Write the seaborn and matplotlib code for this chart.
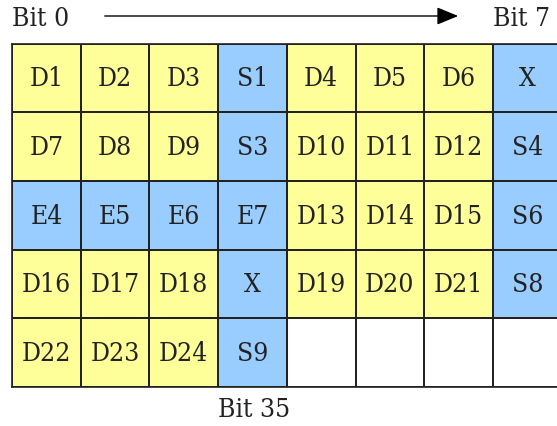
import numpy as np
import matplotlib
matplotlib.use("Agg")
import matplotlib.pyplot as plt
import seaborn as sns
from matplotlib.colors import ListedColormap

# cell labels, row by row (bit 0 .. bit 39)
labels = [
    ["D1", "D2", "D3", "S1", "D4", "D5", "D6", "X"],
    ["D7", "D8", "D9", "S3", "D10", "D11", "D12", "S4"],
    ["E4", "E5", "E6", "E7", "D13", "D14", "D15", "S6"],
    ["D16", "D17", "D18", "X", "D19", "D20", "D21", "S8"],
    ["D22", "D23", "D24", "S9", "", "", "", ""],
]
# 0 = data (yellow), 1 = status (blue), 2 = unused (white)
kinds = [
    [0, 0, 0, 1, 0, 0, 0, 1],
    [0, 0, 0, 1, 0, 0, 0, 1],
    [1, 1, 1, 1, 0, 0, 0, 1],
    [0, 0, 0, 1, 0, 0, 0, 1],
    [0, 0, 0, 1, 2, 2, 2, 2],
]
top_left = "Bit 0"
top_right = "Bit 7"
bottom_label = "Bit 35"

sns.set_theme(style="white")
plt.rcParams['font.family'] = ['DejaVu Serif', 'Liberation Serif']
plt.rcParams['font.stretch'] = 'condensed'

W, H = 557, 427
fig = plt.figure(figsize=(W / 100, H / 100), dpi=100)

cell = 68.7
ax = fig.add_axes([12 / W, (H - 388) / H, 8 * cell / W, 5 * cell / H])
cmap = ListedColormap(["#FFFF99", "#99CCFF", "#FFFFFF"])
sns.heatmap(np.array(kinds), ax=ax, cmap=cmap, vmin=-0.5, vmax=2.5, cbar=False,
            annot=np.array(labels), fmt="", linewidths=1.2, linecolor="#222222",
            annot_kws={"fontsize": 19, "color": "#222222"},
            xticklabels=False, yticklabels=False)
for s in ax.spines.values():
    s.set_visible(True)
    s.set_color("#222222")
    s.set_linewidth(1.2)

# overlay in pixel coordinates for the bit markers
ov = fig.add_axes([0, 0, 1, 1])
ov.set_xlim(0, W)
ov.set_ylim(H, 0)
ov.axis("off")
ov.patch.set_alpha(0)
ov.text(12, 19, top_left, fontsize=19, color="#222222", va="center", ha="left")
ov.text(493, 19, top_right, fontsize=19, color="#222222", va="center", ha="left")
ov.text(218, 410, bottom_label, fontsize=19, color="#222222", va="center", ha="left")
ov.annotate("", xy=(461, 17), xytext=(102, 17),
            arrowprops=dict(arrowstyle="-|>,head_length=1.1,head_width=0.45",
                            color="black", lw=1))

fig.savefig("out.png", dpi=100)
